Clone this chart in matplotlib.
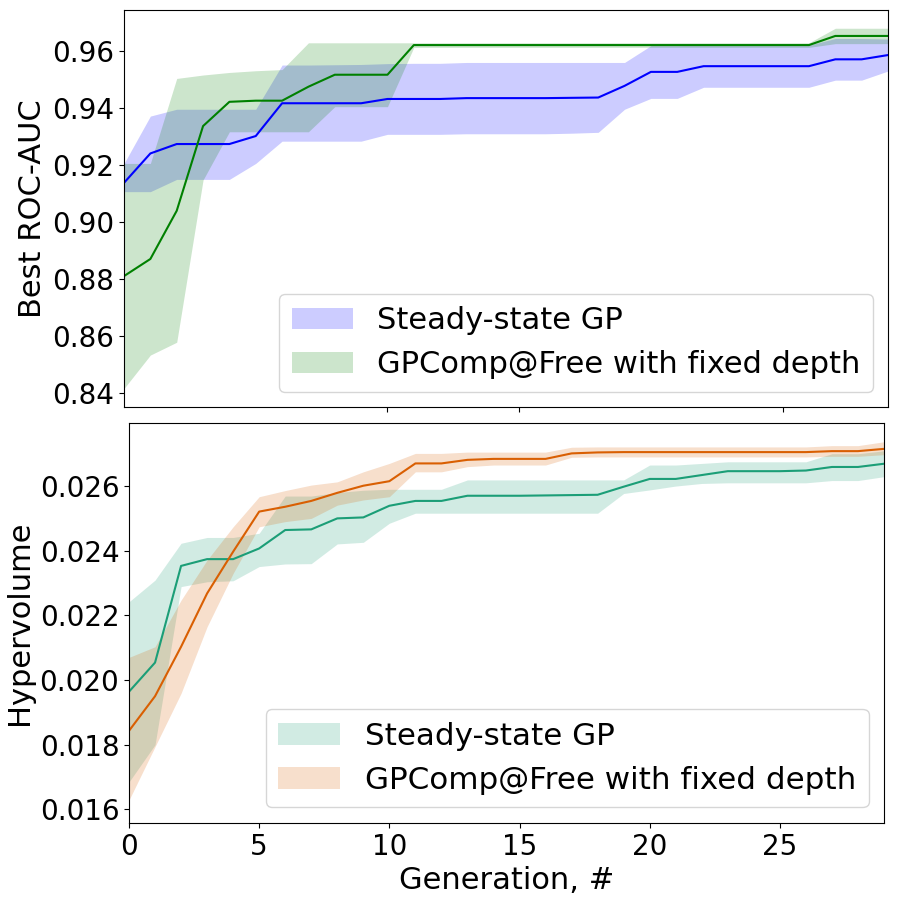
import matplotlib
matplotlib.use("Agg")
import matplotlib.pyplot as plt

generations = list(range(30))

# top panel: best ROC-AUC (mean and band)
ss_roc = [0.9138, 0.9241, 0.9274, 0.9274, 0.9274, 0.9302, 0.9417, 0.9417, 0.9417, 0.9417,
          0.9432, 0.9432, 0.9432, 0.9435, 0.9435, 0.9435, 0.9435, 0.9436, 0.9437, 0.9478,
          0.9527, 0.9527, 0.9547, 0.9547, 0.9547, 0.9547, 0.9547, 0.9571, 0.9571, 0.9586]
ss_roc_lo = [0.9107, 0.9107, 0.9150, 0.9150, 0.9150, 0.9206, 0.9284, 0.9284, 0.9284, 0.9284,
             0.9308, 0.9308, 0.9308, 0.9310, 0.9310, 0.9310, 0.9310, 0.9312, 0.9315, 0.9396,
             0.9434, 0.9434, 0.9473, 0.9473, 0.9473, 0.9473, 0.9473, 0.9498, 0.9498, 0.9530]
ss_roc_hi = [0.9206, 0.9372, 0.9396, 0.9396, 0.9396, 0.9396, 0.9551, 0.9551, 0.9552, 0.9553,
             0.9556, 0.9557, 0.9557, 0.9560, 0.9560, 0.9560, 0.9560, 0.9560, 0.9560, 0.9560,
             0.9619, 0.9619, 0.9621, 0.9621, 0.9621, 0.9621, 0.9621, 0.9644, 0.9644, 0.9642]

fd_roc = [0.8811, 0.8871, 0.9040, 0.9337, 0.9422, 0.9426, 0.9426, 0.9475, 0.9517, 0.9517,
          0.9517, 0.9621, 0.9621, 0.9621, 0.9621, 0.9621, 0.9621, 0.9621, 0.9621, 0.9621,
          0.9621, 0.9621, 0.9621, 0.9621, 0.9621, 0.9621, 0.9621, 0.9653, 0.9653, 0.9653]
fd_roc_lo = [0.8417, 0.8534, 0.8579, 0.9148, 0.9317, 0.9317, 0.9317, 0.9317, 0.9405, 0.9405,
             0.9405, 0.9613, 0.9613, 0.9613, 0.9613, 0.9613, 0.9613, 0.9613, 0.9613, 0.9613,
             0.9613, 0.9613, 0.9613, 0.9613, 0.9613, 0.9613, 0.9613, 0.9626, 0.9626, 0.9626]
fd_roc_hi = [0.9206, 0.9206, 0.9504, 0.9516, 0.9525, 0.9531, 0.9535, 0.9629, 0.9629, 0.9629,
             0.9629, 0.9629, 0.9629, 0.9629, 0.9629, 0.9629, 0.9629, 0.9629, 0.9629, 0.9629,
             0.9629, 0.9629, 0.9629, 0.9629, 0.9629, 0.9629, 0.9629, 0.9680, 0.9680, 0.9680]

# bottom panel: hypervolume
ss_hv = [0.01964, 0.02054, 0.02353, 0.02374, 0.02374, 0.02407, 0.02464, 0.02466, 0.02500, 0.02503,
         0.02539, 0.02554, 0.02554, 0.02570, 0.02570, 0.02570, 0.02571, 0.02572, 0.02573, 0.02598,
         0.02622, 0.02622, 0.02634, 0.02646, 0.02646, 0.02646, 0.02648, 0.02659, 0.02659, 0.02669]
ss_hv_lo = [0.01685, 0.01800, 0.02289, 0.02304, 0.02307, 0.02351, 0.02359, 0.02360, 0.02421, 0.02426,
            0.02485, 0.02516, 0.02516, 0.02516, 0.02516, 0.02516, 0.02516, 0.02516, 0.02516, 0.02577,
            0.02588, 0.02600, 0.02608, 0.02610, 0.02610, 0.02610, 0.02610, 0.02617, 0.02617, 0.02629]
ss_hv_hi = [0.02242, 0.02309, 0.02423, 0.02441, 0.02441, 0.02454, 0.02569, 0.02569, 0.02580, 0.02587,
            0.02590, 0.02590, 0.02590, 0.02619, 0.02619, 0.02619, 0.02619, 0.02619, 0.02619, 0.02619,
            0.02665, 0.02665, 0.02670, 0.02675, 0.02675, 0.02675, 0.02675, 0.02700, 0.02700, 0.02709]

fd_hv = [0.01843, 0.01950, 0.02103, 0.02268, 0.02397, 0.02521, 0.02536, 0.02554, 0.02579, 0.02601,
         0.02615, 0.02670, 0.02670, 0.02681, 0.02684, 0.02684, 0.02684, 0.02701, 0.02704, 0.02705,
         0.02705, 0.02705, 0.02705, 0.02705, 0.02705, 0.02705, 0.02705, 0.02708, 0.02708, 0.02715]
fd_hv_lo = [0.01629, 0.01794, 0.01959, 0.02165, 0.02330, 0.02474, 0.02490, 0.02500, 0.02541, 0.02557,
            0.02567, 0.02644, 0.02644, 0.02660, 0.02665, 0.02665, 0.02665, 0.02689, 0.02690, 0.02690,
            0.02690, 0.02690, 0.02690, 0.02690, 0.02690, 0.02690, 0.02690, 0.02692, 0.02692, 0.02697]
fd_hv_hi = [0.02070, 0.02103, 0.02247, 0.02371, 0.02474, 0.02567, 0.02586, 0.02603, 0.02613, 0.02644,
            0.02670, 0.02701, 0.02701, 0.02705, 0.02705, 0.02705, 0.02705, 0.02720, 0.02721, 0.02721,
            0.02721, 0.02721, 0.02721, 0.02721, 0.02721, 0.02721, 0.02721, 0.02725, 0.02725, 0.02737]

label_ss = 'Steady-state GP'
label_fd = 'GPComp@Free with fixed depth'

fig = plt.figure(figsize=(9.04, 9.0), dpi=100)
ax1 = fig.add_axes([0.1372, 0.5478, 0.8451, 0.4411])
ax2 = fig.add_axes([0.1427, 0.0856, 0.8352, 0.4444])

ax1.fill_between(generations, ss_roc_lo, ss_roc_hi, color='blue', alpha=0.2, linewidth=0, label=label_ss)
ax1.fill_between(generations, fd_roc_lo, fd_roc_hi, color='green', alpha=0.2, linewidth=0, label=label_fd)
ax1.plot(generations, ss_roc, color='blue', linewidth=1.5)
ax1.plot(generations, fd_roc, color='green', linewidth=1.5)
ax1.set_xlim(0, 29)
ax1.set_ylim(0.8352, 0.9744)
ax1.set_xticks([10, 15, 25])
ax1.set_xticklabels([])
ax1.set_yticks([0.84, 0.86, 0.88, 0.90, 0.92, 0.94, 0.96])
ax1.tick_params(labelsize=20)
ax1.set_ylabel('Best ROC-AUC', fontsize=22)
ax1.legend(loc='lower right', fontsize=22)

teal = '#1b9e77'
orange = '#d95f02'
ax2.fill_between(generations, ss_hv_lo, ss_hv_hi, color=teal, alpha=0.2, linewidth=0, label=label_ss)
ax2.fill_between(generations, fd_hv_lo, fd_hv_hi, color=orange, alpha=0.2, linewidth=0, label=label_fd)
ax2.plot(generations, ss_hv, color=teal, linewidth=1.5)
ax2.plot(generations, fd_hv, color=orange, linewidth=1.5)
ax2.set_xlim(0, 29)
ax2.set_ylim(0.01558, 0.02795)
ax2.set_xticks([0, 5, 10, 15, 20, 25])
ax2.set_yticks([0.016, 0.018, 0.020, 0.022, 0.024, 0.026])
ax2.tick_params(labelsize=20)
ax2.set_xlabel('Generation, #', fontsize=22)
ax2.set_ylabel('Hypervolume', fontsize=22)
ax2.legend(loc='lower right', fontsize=22.3)

fig.savefig('out.png', dpi=100)
